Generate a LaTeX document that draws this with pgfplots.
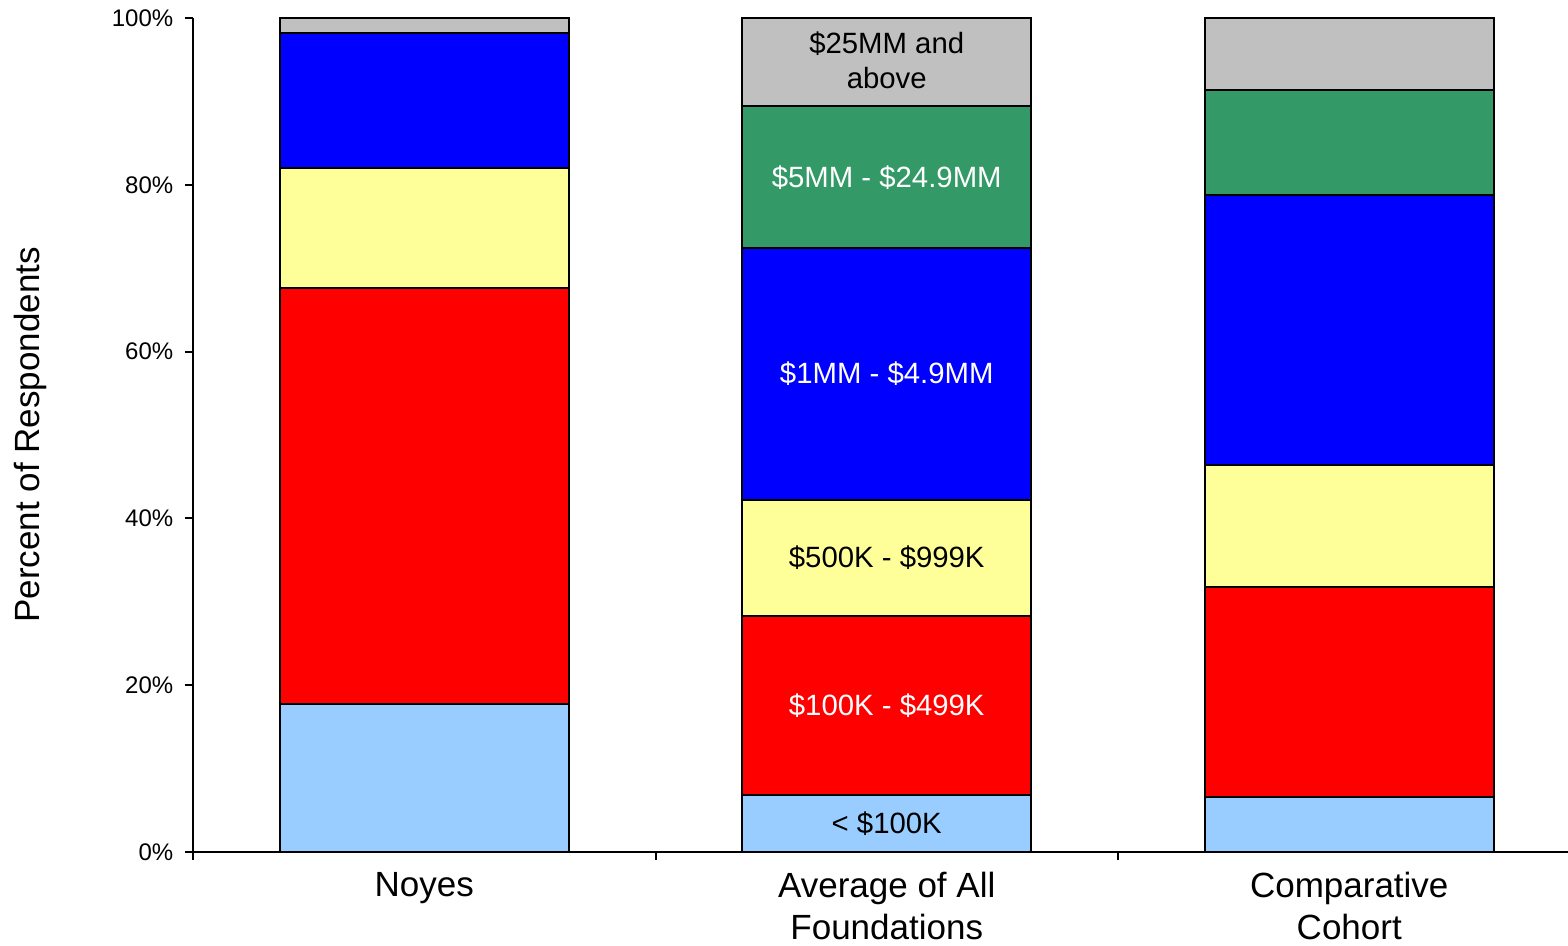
\documentclass[border=0pt]{standalone}
\usepackage{fontspec}
\setmainfont{Liberation Sans}
\usepackage{pgfplots}
\pgfplotsset{compat=1.18}
\definecolor{cLB}{HTML}{99CCFF}
\definecolor{cRed}{HTML}{FF0000}
\definecolor{cYel}{HTML}{FFFF99}
\definecolor{cBlue}{HTML}{0000FF}
\definecolor{cGreen}{HTML}{339966}
\definecolor{cGrey}{HTML}{C0C0C0}
\begin{document}
\begin{tikzpicture}
\begin{axis}[
  at={(0,0)}, anchor=south west,
  scale only axis, width=416.25pt, height=250.2pt,
  ybar stacked, bar width=86.7pt,
  xmin=-0.5, xmax=2.5, ymin=0, ymax=100,
  axis x line*=bottom, axis y line*=left,
  xtick={-0.5,0.5,1.5,2.5}, xticklabels={{},{},{},{}},
  extra x ticks={0,1,2},
  extra x tick labels={Noyes,{Average of All\\Foundations},{Comparative\\Cohort}},
  extra x tick style={major tick length=0pt, tick label style={align=center, font=\fontsize{10.5}{12.6}\selectfont, yshift=-2.5pt}},
  tick align=outside, major tick length=2.4pt,
  ytick={0,20,40,60,80,100}, yticklabels={0\%,20\%,40\%,60\%,80\%,100\%},
  yticklabel style={font=\fontsize{7.2}{8}\selectfont},
  ylabel={Percent of Respondents},
  ylabel style={font=\fontsize{10.5}{12}\selectfont, at={(axis description cs:-0.1175,0.5)}, anchor=center},
  axis line style={line width=0.6pt, black},
  tick style={black, line width=0.6pt},
  clip=false,
]
\addplot[fill=cLB, draw=black, line width=0.6pt] coordinates {(0,17.7) (1,6.8) (2,6.6)};
\addplot[fill=cRed, draw=black, line width=0.6pt] coordinates {(0,49.9) (1,21.5) (2,25.2)};
\addplot[fill=cYel, draw=black, line width=0.6pt] coordinates {(0,14.4) (1,13.9) (2,14.6)};
\addplot[fill=cBlue, draw=black, line width=0.6pt] coordinates {(0,16.2) (1,30.2) (2,32.4)};
\addplot[fill=cGreen, draw=black, line width=0.6pt] coordinates {(0,0) (1,17.0) (2,12.6)};
\addplot[fill=cGrey, draw=black, line width=0.6pt] coordinates {(0,1.8) (1,10.6) (2,8.6)};
\coordinate (L1) at (axis cs:1,94.9);
\coordinate (L2) at (axis cs:1,80.9);
\coordinate (L3) at (axis cs:1,57.3);
\coordinate (L4) at (axis cs:1,35.25);
\coordinate (L5) at (axis cs:1,17.55);
\coordinate (L6) at (axis cs:1,3.4);
\end{axis}
\begin{scope}[every node/.style={font=\fontsize{8.8}{10.5}\selectfont, align=center}]
\node[black] at (L1) {\$25MM and\\above};
\node[white] at (L2) {\$5MM - \$24.9MM};
\node[white] at (L3) {\$1MM - \$4.9MM};
\node[black] at (L4) {\$500K - \$999K};
\node[white] at (L5) {\$100K - \$499K};
\node[black] at (L6) {< \$100K};
\end{scope}
\pgfresetboundingbox
\path (-57.9pt,-27.9pt) rectangle (412.5pt,255.6pt);
\end{tikzpicture}
\end{document}
